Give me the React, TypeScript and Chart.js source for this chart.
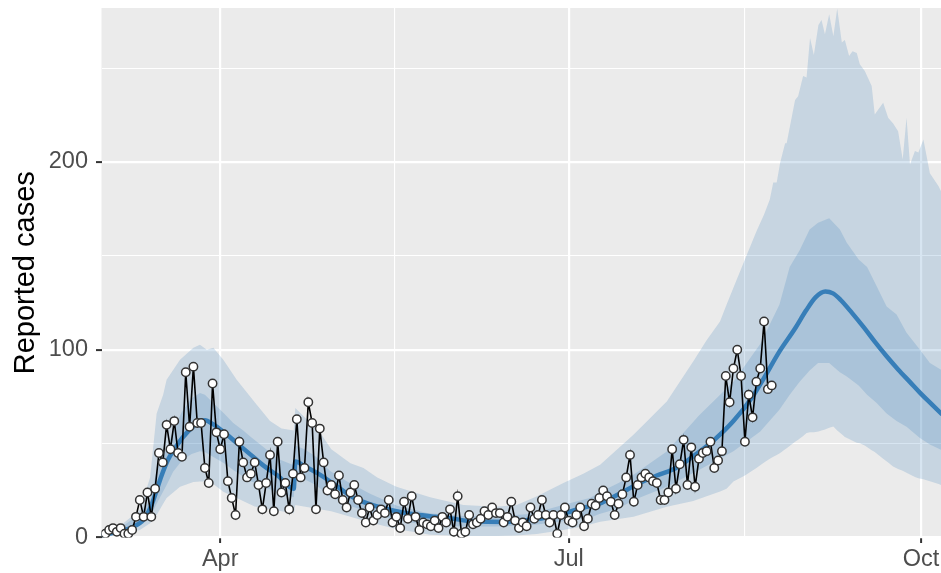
import { useEffect, useRef } from "react";
import { Chart, registerables } from "chart.js";

Chart.register(...registerables);

// x values are day numbers counted from 1 March (day 0); reports start on day 1.
const firstReportDay = 1;

const reportedCases = [
  2, 4, 5, 3, 5, 2, 2, 4, 11, 20, 11, 24, 11, 26, 45, 40, 60, 47, 62, 45, 43, 88, 59,
  91, 61, 61, 37, 29, 82, 56, 47, 55, 30, 21, 12, 51, 40, 32, 34, 40, 28, 15, 29, 44,
  14, 51,
  24, 29, 15, 34, 63, 32, 37, 72, 61, 15, 58, 40, 25, 28, 23, 33, 20, 16, 24, 28, 20,
  13, 8, 16, 9, 12, 15, 13, 20, 8, 11, 5, 19, 10, 22, 11, 4, 8, 7, 6, 9, 5, 11, 8, 15,
  3, 22, 2, 3, 12, 7, 8, 10, 14, 12, 16, 13, 13, 8, 11, 19, 9, 5, 8, 6, 16, 10, 12, 20,
  12, 8, 12, 2, 12, 16, 9, 8, 12, 16, 6, 10, 18, 17, 21, 25, 22, 19, 12,
  18, 23, 32, 44, 19, 28, 32, 34, 32, 30, 29, 20, 20, 24, 47, 26, 39, 52, 28, 48, 27,
  42, 45, 46, 51, 37, 41, 46, 86, 72, 90, 100, 86, 51, 76, 64, 83, 90, 115, 79, 81,
];

const medianDays = [
  0, 3, 6, 8, 11, 13, 14.3, 15.6, 17.4, 20, 22.6, 25.2, 27, 29, 32, 35.5, 39, 42.5, 46,
  50.2, 50.6, 53, 57, 61, 66, 72, 77, 82, 87, 91, 97, 106, 112, 116, 121, 126, 130, 135,
  140, 145, 150, 155, 160, 165, 170, 173, 177, 181, 184, 186.5, 189, 191, 193, 196, 199,
  202, 205, 208, 211, 214, 217, 219.5,
];
const medianCases = [
  1, 2.5, 4, 5.5, 9.5, 17, 24.5, 32.5, 41.5, 50, 56.5, 61, 62.5, 60.5, 56, 50, 44, 38,
  33, 26, 40.5, 38, 33.5, 28, 21, 16.5, 14, 12.2, 11, 10.2, 8.6, 8.3, 9.5, 10.5, 13, 16,
  18, 23, 28.5, 33, 37, 44, 52, 62, 75, 85, 99, 111, 121, 128, 131, 130, 126.5, 119.5,
  112, 104, 96.5, 89.5, 83, 76.5, 70.5, 65.5,
];

const innerDays = [
  0, 5.5, 10, 12.7, 14.4, 17, 18.7, 21, 23.5, 25.7, 27, 30, 32, 34.4, 37, 39, 43, 46,
  50.2, 50.6, 53, 56, 59.6, 64, 70, 77, 85, 94.5, 103, 112, 120, 127.5, 130, 135, 139,
  147.6, 156, 165, 172, 177, 179.7, 182.3, 184.9, 187.1, 190, 192.8, 194.6, 197.7,
  199.9, 202.4, 205, 207.6, 210.2, 213.7, 216.3, 219.2,
];
const innerLower = [
  0.5, 3, 7.5, 11, 18, 28, 35, 41, 44.5, 46, 45.5, 42, 39.5, 36, 32.5, 30, 26.5, 24,
  21.5, 33, 31, 28, 22, 17.5, 13.5, 9, 6.8, 5.8, 5.8, 6.5, 8.5, 10.5, 12.5, 15.5, 20,
  27, 36, 46, 56.5, 68, 76, 83, 89, 92.9, 92.9, 88, 85.8, 81, 76, 71.6, 66, 62, 59, 53,
  49.5, 46.7,
];
const innerUpper = [
  1.5, 6, 12.5, 20, 36, 47, 57, 67, 74, 77, 76, 70, 66, 61, 57, 53.5, 47, 42, 38.5, 49,
  47, 43, 35.5, 30, 23.5, 17, 13, 11.5, 11.3, 12.5, 17, 21, 24, 29, 33.5, 45.8, 65, 83,
  103, 124, 144, 153, 164, 167.6, 170, 164, 157, 148, 144, 133.8, 123, 118.7, 109, 100,
  93, 89.3,
];

const outerDays = [
  0, 5.7, 10, 12.7, 14.4, 16.1, 17, 20.5, 24, 25.7, 27.5, 29.2, 31.8, 35.3, 40, 44, 47,
  50.2, 50.6, 57, 60, 65, 68.4, 72, 77, 85.8, 94.5, 103, 108.4, 113.6, 120.6, 125.8,
  130.2, 138.9, 147.6, 154.5, 158, 161.5, 163.2, 165, 168, 171, 173, 174.5, 175.4, 176.3,
  177.2, 178.5, 178.9, 181.1, 181.9, 183.2, 184.1, 185, 186, 187.2, 188, 188.9, 190,
  191.1, 192.1, 193.3, 194.1, 195.2, 196.1, 197.2, 198, 199.3, 201.1, 201.9, 204.1,
  205.4, 206.7, 208, 209.2, 210.2, 211.1, 212.4, 213.3, 214.6, 216.3, 218.6, 219.2,
];
const outerLower = [
  0, 2, 4, 7.6, 12, 18, 21, 27, 29.5, 29.8, 29.8, 28.5, 24.4, 21, 16.5, 15, 14, 12.9,
  17.3, 15, 14, 11, 9, 7, 4.5, 1.5, 0.8, 0.8, 1, 1.8, 4, 6, 8.4, 11.1, 16.4, 19.5, 22,
  24.5, 26, 29.8, 33, 37, 40, 42, 43, 44, 45, 47, 47.5, 51, 52, 54, 55.6, 56, 56, 56.4,
  57, 57.5, 58.5, 59.1, 57, 55, 53.5, 52.5, 51.5, 50.5, 50.2, 49, 46.5, 45.5, 42, 40,
  37.8, 36.5, 35.5, 34.5, 33.5, 32.2, 31.5, 31, 30, 28.5, 28,
];
const outerUpper = [
  2, 7.6, 14.7, 32, 66, 76, 84, 94.7, 101, 102.7, 100, 101, 94.7, 84, 72, 62, 58, 57,
  69, 56, 47, 39.5, 37, 32, 27, 21.5, 17.3, 16.4, 17.3, 21.8, 29, 34, 38.7, 54.7, 72.4,
  93.8, 105, 115, 124, 133, 148, 163, 172, 180, 189, 189, 199.6, 210, 210, 233, 235,
  245.8, 245, 266, 257, 273, 275.6, 268, 278.7, 267, 281.7, 263.6, 265, 256.4, 259, 258,
  252, 248.4, 240.4, 225.3, 231.6, 223.6, 220.5, 216.4, 201.3, 223.6, 198.7, 205.8, 205,
  212, 194, 187, 184.4,
];

const monthTickDays = [31, 122, 214];
const monthTickLabels = ["Apr", "Jul", "Oct"];
const monthMinorDays = [76.5, 168];
const caseTicks = [0, 100, 200];
const caseMinorTicks = [50, 150, 250];

const dayMin = 0;
const dayMax = 219.2;
const caseMin = 0;
const caseMax = 282;

const FONT = '"Liberation Sans", Arial, Helvetica, sans-serif';
const RIBBON_FILL = "rgba(55, 126, 184, 0.2)";
const CLEAR = "rgba(0, 0, 0, 0)";

const toPoints = (xs: number[], ys: number[]) => xs.map((x, i) => ({ x, y: ys[i] }));

const panelBackground = {
  id: "panelBackground",
  beforeDraw(chart: Chart) {
    const { ctx, chartArea } = chart;
    if (!chartArea) return;
    ctx.save();
    ctx.fillStyle = "#EBEBEB";
    ctx.fillRect(chartArea.left, chartArea.top, chartArea.right - chartArea.left, chartArea.bottom - chartArea.top);
    ctx.restore();
  },
};

const ribbonEdge = (data: { x: number; y: number }[], order: number, fill: any) => ({
  type: "line" as const,
  data,
  order,
  fill,
  backgroundColor: RIBBON_FILL,
  borderColor: CLEAR,
  borderWidth: 0,
  pointRadius: 0,
  tension: 0,
});

export default function App() {
  const canvasRef = useRef<HTMLCanvasElement | null>(null);

  useEffect(() => {
    document.body.style.margin = "0";
    const canvas = canvasRef.current;
    if (!canvas) return;

    const observed = reportedCases.map((y, i) => ({ x: firstReportDay + i, y }));
    const isMonth = (v: number) => monthTickDays.includes(v);
    const isMajorCase = (v: number) => caseTicks.includes(v);

    const chart = new Chart(canvas, {
      type: "line",
      data: {
        datasets: [
          {
            data: observed,
            order: 0,
            borderColor: "#000000",
            borderWidth: 1.6,
            pointRadius: 4.2,
            pointBorderWidth: 1.5,
            pointBackgroundColor: "#FFFFFF",
            pointBorderColor: "#333333",
            tension: 0,
            fill: false,
            clip: 0,
          },
          {
            data: toPoints(medianDays, medianCases),
            order: 1,
            borderColor: "#377EB8",
            borderWidth: 4.5,
            pointRadius: 0,
            cubicInterpolationMode: "monotone",
            fill: false,
            clip: 0,
          },
          ribbonEdge(toPoints(innerDays, innerLower), 2, false),
          ribbonEdge(toPoints(innerDays, innerUpper), 2, 2),
          ribbonEdge(toPoints(outerDays, outerLower), 3, false),
          ribbonEdge(toPoints(outerDays, outerUpper), 3, 4),
        ] as any,
      },
      options: {
        animation: false,
        responsive: false,
        devicePixelRatio: 1,
        events: [],
        layout: { autoPadding: false, padding: { top: 8, right: 0, bottom: 0, left: 0 } },
        plugins: {
          legend: { display: false },
          tooltip: { enabled: false },
        },
        scales: {
          x: {
            type: "linear",
            min: dayMin,
            max: dayMax,
            afterBuildTicks: (scale: any) => {
              scale.ticks = [...monthTickDays, ...monthMinorDays]
                .sort((a, b) => a - b)
                .map((value) => ({ value }));
            },
            afterFit: (scale: any) => {
              scale.height = 35.5;
              scale.paddingLeft = 0;
              scale.paddingRight = 0;
            },
            ticks: {
              autoSkip: false,
              maxRotation: 0,
              minRotation: 0,
              padding: 2.5,
              color: "#4D4D4D",
              font: { family: FONT, size: 23.5 },
              callback: (value: any) => {
                const i = monthTickDays.indexOf(Number(value));
                return i >= 0 ? monthTickLabels[i] : "";
              },
            },
            grid: {
              color: "#FFFFFF",
              lineWidth: (ctx: any) => (isMonth(ctx.tick?.value) ? 2.2 : 1.1),
              drawTicks: true,
              tickLength: 5.5,
              tickWidth: 2,
              tickColor: (ctx: any) => (isMonth(ctx.tick?.value) ? "#333333" : CLEAR),
            },
            border: { display: false },
          },
          y: {
            type: "linear",
            min: caseMin,
            max: caseMax,
            afterBuildTicks: (scale: any) => {
              scale.ticks = [...caseTicks, ...caseMinorTicks]
                .sort((a, b) => a - b)
                .map((value) => ({ value }));
            },
            afterFit: (scale: any) => {
              scale.width = 101.5;
              scale.paddingTop = 0;
              scale.paddingBottom = 0;
            },
            title: {
              display: true,
              text: "Reported cases",
              color: "#000000",
              font: { family: FONT, size: 29 },
              padding: { top: 8.4, bottom: 0 },
            },
            ticks: {
              autoSkip: false,
              padding: 8,
              color: "#4D4D4D",
              font: { family: FONT, size: 23.5 },
              callback: (value: any) => (isMajorCase(Number(value)) ? String(value) : ""),
            },
            grid: {
              color: "#FFFFFF",
              lineWidth: (ctx: any) => (isMajorCase(ctx.tick?.value) ? 2.2 : 1.1),
              drawTicks: true,
              tickLength: 5.5,
              tickWidth: 2,
              tickColor: (ctx: any) => (isMajorCase(ctx.tick?.value) ? "#333333" : CLEAR),
            },
            border: { display: false },
          },
        },
      } as any,
      plugins: [panelBackground],
    });

    return () => chart.destroy();
  }, []);

  return <canvas ref={canvasRef} width={941} height={573} style={{ display: "block" }} />;
}
